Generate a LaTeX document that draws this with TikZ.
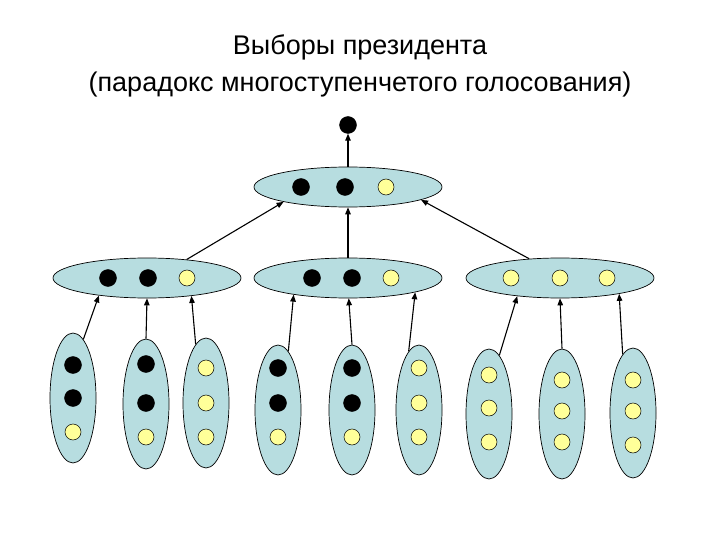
\documentclass[tikz,border=0pt]{standalone}
\usepackage{fontspec}
\setmainfont{Liberation Sans}
\usetikzlibrary{shapes.geometric,arrows.meta}
\definecolor{ellfill}{RGB}{183,221,224}
\definecolor{ydot}{RGB}{255,255,153}
\begin{document}
\begin{tikzpicture}[x=1pt,y=-1pt,
  grp/.style={ellipse,draw=black,fill=ellfill,inner sep=0pt,line width=0.7pt},
  hgrp/.style={grp,minimum width=188pt,minimum height=40pt},
  vgrp/.style={grp,minimum width=46pt,minimum height=130pt},
  bdot/.style={circle,fill=black,draw=black,minimum size=17pt,inner sep=0pt},
  ydt/.style={circle,fill=ydot,draw=black,minimum size=16pt,inner sep=0pt,line width=0.5pt},
  arr/.style={-{Triangle[length=7pt,width=5.5pt]},line width=1.1pt}]
\useasboundingbox (0,0) rectangle (720,540);
\node[font=\fontsize{27}{37}\selectfont,align=center] (title) at (360,66) {Выборы президента\\(парадокс многоступенчетого голосования)};
\node[bdot] (win) at (348,125) {};
\node[hgrp] (top) at (348,187) {};
\node[bdot] (t1) at (301,187) {};
\node[bdot] (t2) at (345,187) {};
\node[ydt] (t3) at (386,187) {};
\node[hgrp] (m1) at (147,278) {};
\node[hgrp] (m2) at (348,278) {};
\node[hgrp] (m3) at (560,278) {};
\node[bdot] (m1a) at (108,278) {};
\node[bdot] (m1b) at (148,278) {};
\node[ydt] (m1c) at (187,278) {};
\node[bdot] (m2a) at (312,278) {};
\node[bdot] (m2b) at (352,278) {};
\node[ydt] (m2c) at (391,278) {};
\node[ydt] (m3a) at (511,278) {};
\node[ydt] (m3b) at (560,278) {};
\node[ydt] (m3c) at (607,278) {};
\foreach \n/\x/\y/\sa/\sb/\sc/\ya/\yb/\yc in {
  b1/73/398/bdot/bdot/ydt/365/398/432,
  b2/146/404/bdot/bdot/ydt/364/403/437,
  b3/206/403/ydt/ydt/ydt/368/403/437,
  b4/278/410/bdot/bdot/ydt/368/403/437,
  b5/352/410/bdot/bdot/ydt/368/403/437,
  b6/419/410/ydt/ydt/ydt/368/403/437,
  b7/489/414/ydt/ydt/ydt/375/408/442,
  b8/562/414/ydt/ydt/ydt/380/411/442,
  b9/633/413/ydt/ydt/ydt/380/411/445}{
  \node[vgrp] (\n) at (\x,\y) {};
  \node[\sa] (\n a) at (\x,\ya) {};
  \node[\sb] (\n b) at (\x,\yb) {};
  \node[\sc] (\n c) at (\x,\yc) {};
}
\draw[arr] (top.north) -- (win);
\draw[arr] (m1.25.7) -- (top.-167.9);
\draw[arr] (m2.north) -- (top.south);
\draw[arr] (m3.148) -- (top.-10.1);
\draw[arr] (b1.80) -- (m1.-160);
\draw[arr] (b2.north) -- (m1.south);
\draw[arr] (b3.100) -- (m1.-22.5);
\draw[arr] (b4.80) -- (m2.-163.6);
\draw[arr] (b5.north) -- (m2.-88);
\draw[arr] (b6.100) -- (m2.-12.9);
\draw[arr] (b7.80) -- (m3.-157.5);
\draw[arr] (b8.north) -- (m3.south);
\draw[arr] (b9.100) -- (m3.-15.2);
\end{tikzpicture}
\end{document}
